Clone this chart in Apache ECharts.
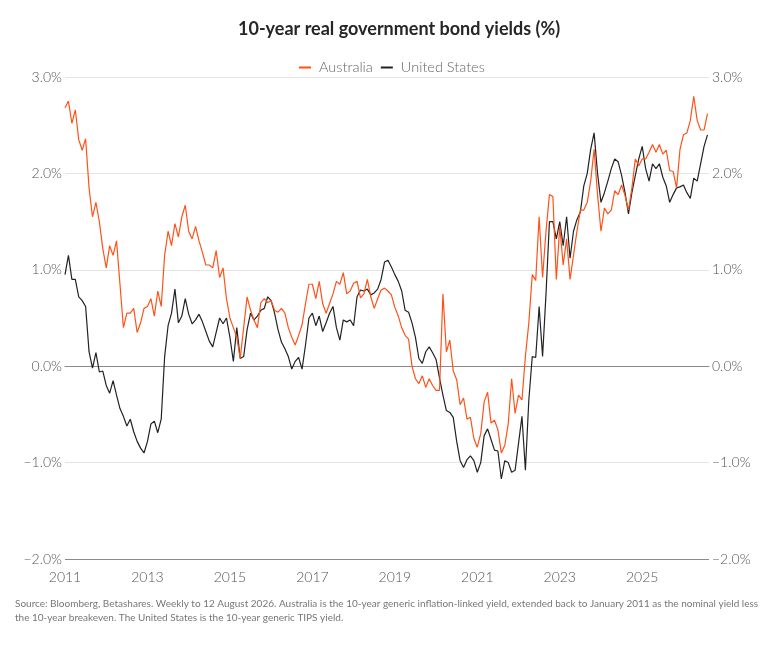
<!DOCTYPE html>
<html>
<head>
<meta charset="utf-8">
<script src="https://cdn.jsdelivr.net/npm/echarts@6/dist/echarts.min.js"></script>
<style>
  html, body { margin: 0; padding: 0; background: #fff; }
  #chart { width: 766px; height: 647px; }
</style>
</head>
<body>
<div id="chart"></div>
<script>
// monthly readings, Jan 2011 .. Aug 2026
var startYear = 2011;
var endYear = 2026.62;

var australia = [
    2.68, 2.75, 2.52, 2.66, 2.35, 2.24, 2.36, 1.85, 1.55, 1.70, 1.50, 1.22,
    1.02, 1.25, 1.15, 1.30, 0.85, 0.40, 0.55, 0.55, 0.60, 0.35, 0.45, 0.60,
    0.62, 0.70, 0.52, 0.78, 0.62, 1.15, 1.40, 1.25, 1.48, 1.34, 1.55, 1.67,
    1.40, 1.32, 1.45, 1.30, 1.18, 1.05, 1.05, 1.02, 1.20, 0.92, 1.02, 0.70,
    0.50, 0.40, 0.30, 0.08, 0.40, 0.72, 0.58, 0.48, 0.40, 0.66, 0.70, 0.66,
    0.68, 0.58, 0.56, 0.60, 0.55, 0.40, 0.30, 0.22, 0.32, 0.43, 0.65, 0.85,
    0.85, 0.70, 0.88, 0.65, 0.55, 0.65, 0.75, 0.88, 0.85, 0.97, 0.75, 0.78,
    0.86, 0.88, 0.71, 0.75, 0.90, 0.72, 0.60, 0.70, 0.79, 0.81, 0.78, 0.74,
    0.61, 0.52, 0.40, 0.32, 0.28, 0.00, -0.13, -0.18, -0.10, -0.22, -0.13, -0.20,
    -0.25, -0.25, 0.75, 0.15, 0.27, -0.05, -0.14, -0.40, -0.33, -0.55, -0.53, -0.75,
    -0.84, -0.70, -0.37, -0.27, -0.59, -0.56, -0.66, -0.90, -0.82, -0.60, -0.13, -0.49,
    -0.30, -0.35, 0.10, 0.45, 0.95, 0.89, 1.55, 0.92, 1.40, 1.78, 1.76, 0.90,
    1.45, 1.05, 1.32, 0.90, 1.15, 1.40, 1.62, 1.62, 1.70, 1.92, 2.25, 1.78,
    1.40, 1.64, 1.58, 1.62, 1.82, 1.78, 1.88, 1.77, 1.62, 1.85, 2.15, 2.08,
    2.15, 2.15, 2.22, 2.30, 2.22, 2.30, 2.20, 2.24, 2.03, 2.02, 1.85, 2.25,
    2.40, 2.42, 2.55, 2.80, 2.55, 2.45, 2.45, 2.62
];

var unitedStates = [
    0.95, 1.15, 0.90, 0.90, 0.72, 0.68, 0.62, 0.15, -0.02, 0.14, -0.06, -0.05,
    -0.20, -0.28, -0.15, -0.30, -0.44, -0.52, -0.62, -0.55, -0.68, -0.78, -0.85, -0.90,
    -0.78, -0.60, -0.57, -0.69, -0.55, 0.10, 0.42, 0.55, 0.80, 0.45, 0.52, 0.70,
    0.54, 0.44, 0.48, 0.54, 0.46, 0.36, 0.26, 0.20, 0.35, 0.50, 0.44, 0.50,
    0.30, 0.05, 0.40, 0.08, 0.10, 0.38, 0.55, 0.48, 0.52, 0.58, 0.60, 0.72,
    0.68, 0.55, 0.38, 0.25, 0.18, 0.10, -0.03, 0.05, 0.09, -0.03, 0.22, 0.50,
    0.55, 0.42, 0.52, 0.36, 0.45, 0.55, 0.62, 0.40, 0.27, 0.48, 0.46, 0.48,
    0.42, 0.72, 0.79, 0.78, 0.80, 0.74, 0.76, 0.80, 0.90, 1.08, 1.10, 1.03,
    0.95, 0.88, 0.78, 0.58, 0.56, 0.45, 0.30, 0.08, 0.03, 0.15, 0.20, 0.14,
    0.07, -0.12, -0.30, -0.46, -0.48, -0.53, -0.78, -0.98, -1.05, -0.97, -0.93, -0.98,
    -1.10, -1.00, -0.72, -0.65, -0.76, -0.87, -0.88, -1.17, -0.98, -1.00, -1.10, -1.08,
    -0.80, -0.52, -1.08, -0.35, 0.10, 0.09, 0.62, 0.10, 0.75, 1.50, 1.50, 1.32,
    1.50, 1.25, 1.55, 1.12, 1.40, 1.52, 1.60, 1.87, 2.00, 2.25, 2.42, 2.00,
    1.70, 1.80, 1.92, 2.05, 2.15, 2.12, 1.98, 1.80, 1.58, 1.80, 1.98, 2.15,
    2.28, 2.05, 1.92, 2.10, 2.05, 2.10, 1.96, 1.87, 1.70, 1.78, 1.85, 1.86,
    1.88, 1.80, 1.74, 1.95, 1.92, 2.10, 2.28, 2.40
];

var yTicks = [-2, -1, 0, 1, 2, 3];
var xTickYears = [2011, 2013, 2015, 2017, 2019, 2021, 2023, 2025];

var sourceNote = 'Source: Bloomberg, Betashares. Weekly to 12 August 2026. Australia is the 10-year generic inflation-linked yield, extended back to January 2011 as the nominal yield less\n' +
    'the 10-year breakeven. The United States is the 10-year generic TIPS yield.';

// month index -> decimal year
var toSeries = function (values) {
    return values.map(function (v, i) {
        return [startYear + i / 12, v];
    });
};

var pctLabel = function (v) {
    var s = Math.abs(v).toFixed(1) + '%';
    return v < 0 ? '\u2212' + s : s;
};

var font = 'Lato, "Noto Sans", sans-serif';

var option = {
    animation: false,
    color: ['#ff5219', '#222222'],
    title: {
        text: '10-year real government bond yields (%)',
        left: 233,
        top: 15,
        textStyle: {
            fontFamily: font,
            fontSize: 18,
            fontWeight: 'bold',
            color: '#262626'
        }
    },
    legend: {
        data: ['Australia', 'United States'],
        top: 55,
        left: 294,
        icon: 'rect',
        itemWidth: 12,
        itemHeight: 2,
        itemGap: 8,
        textStyle: {
            fontFamily: font,
            fontSize: 14.5,
            fontWeight: 300,
            color: '#666',
            padding: [0, 0, 0, 3]
        }
    },
    grid: {
        left: 65,
        right: 57,
        top: 77,
        bottom: 88
    },
    xAxis: {
        type: 'value',
        min: startYear,
        max: endYear,
        interval: 2,
        axisLine: {lineStyle: {color: '#8a8a8a', width: 1}},
        axisTick: {show: false},
        splitLine: {show: false},
        axisLabel: {
            margin: 11,
            fontFamily: font,
            fontSize: 14,
            fontWeight: 300,
            color: '#555',
            formatter: function (v) {
                var y = Math.round(v);
                return (Math.abs(v - y) < 0.01 && xTickYears.indexOf(y) >= 0) ? String(y) : '';
            }
        }
    },
    yAxis: [
        {
            type: 'value',
            min: yTicks[0],
            max: yTicks[yTicks.length - 1],
            interval: 1,
            axisLine: {show: false},
            axisTick: {show: false},
            axisLabel: {
                margin: 3,
                fontFamily: font,
                fontSize: 14,
                fontWeight: 300,
                color: '#555',
                formatter: pctLabel
            },
            splitLine: {
                lineStyle: {
                    color: ['#8a8a8a', '#e4e4e4', '#9a9a9a', '#e4e4e4', '#e4e4e4', '#e4e4e4'],
                    width: 1
                }
            }
        },
        {
            type: 'value',
            min: yTicks[0],
            max: yTicks[yTicks.length - 1],
            interval: 1,
            position: 'right',
            axisLine: {show: false},
            axisTick: {show: false},
            splitLine: {show: false},
            axisLabel: {
                margin: 3,
                fontFamily: font,
                fontSize: 14,
                fontWeight: 300,
                color: '#555',
                formatter: pctLabel
            }
        }
    ],
    graphic: [
        {
            type: 'text',
            left: 15,
            top: 597,
            style: {
                text: sourceNote,
                fontFamily: font,
                fontSize: 10,
                lineHeight: 14,
                fill: '#777'
            }
        }
    ],
    series: [
        {
            name: 'Australia',
            type: 'line',
            data: toSeries(australia),
            showSymbol: false,
            symbol: 'none',
            lineStyle: {width: 1.2},
            z: 3
        },
        {
            name: 'United States',
            type: 'line',
            data: toSeries(unitedStates),
            showSymbol: false,
            symbol: 'none',
            lineStyle: {width: 1.2},
            z: 2
        }
    ]
};

var myChart = echarts.init(document.getElementById('chart'));
myChart.setOption(option);
</script>
</body>
</html>
